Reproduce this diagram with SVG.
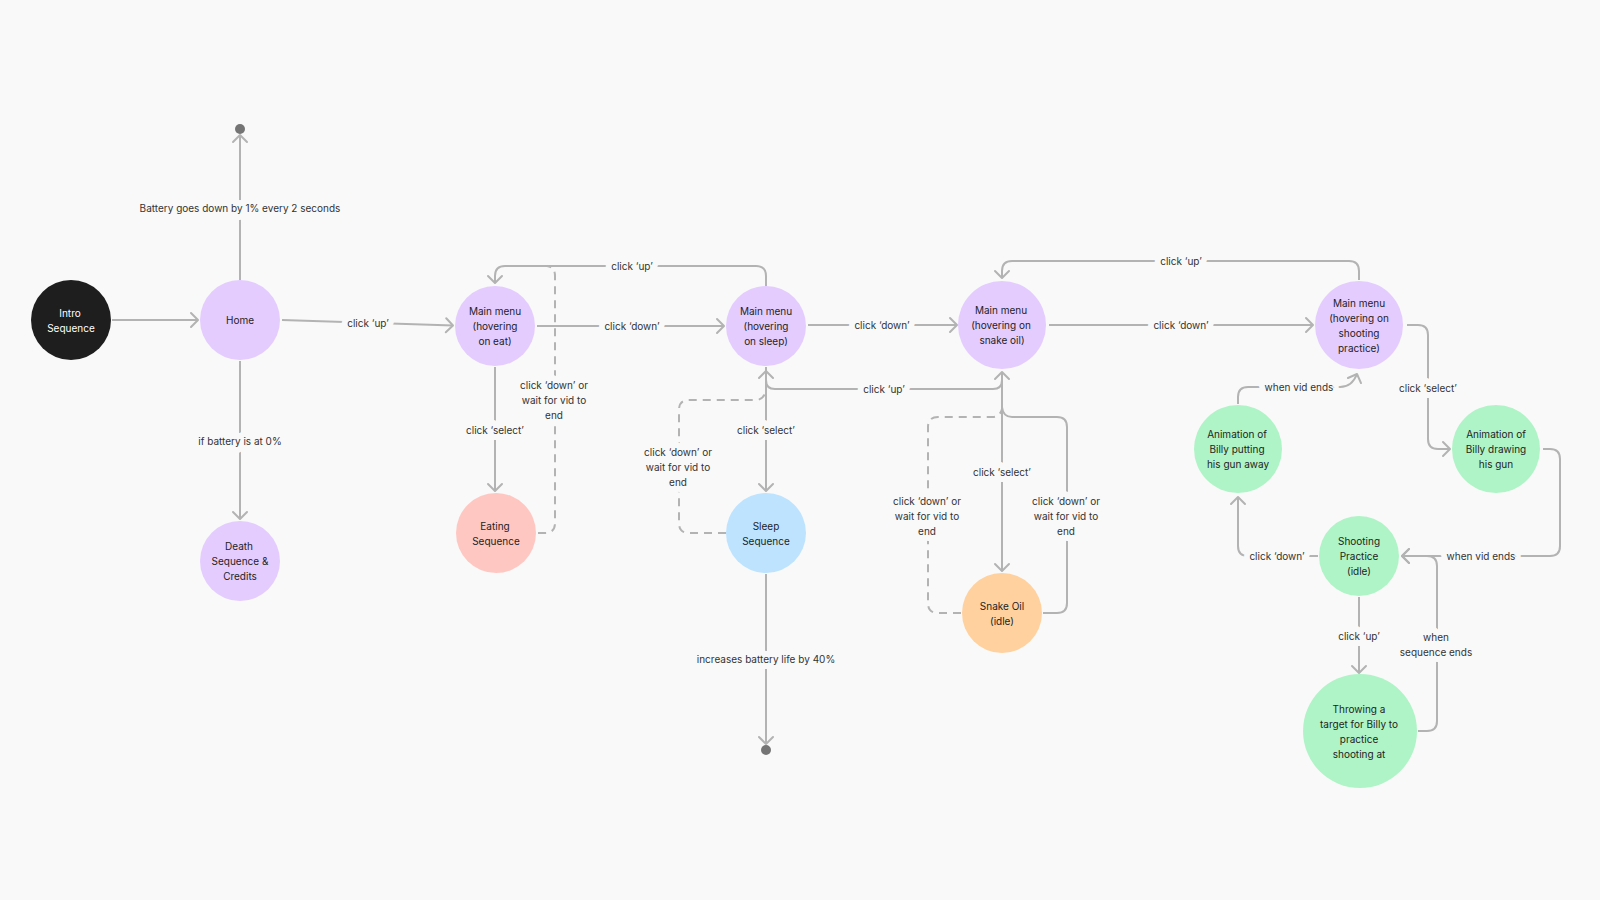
<svg xmlns="http://www.w3.org/2000/svg" width="1600" height="900" viewBox="0 0 1600 900">
<defs>
<style>
.bg{fill:#F9F9F9}
.n text{font-family:Inter,"Noto Sans",sans-serif;font-size:10px;fill:#1E1E1E;text-anchor:middle;dominant-baseline:central}
.purple{fill:#E4CCFF}
.green{fill:#AFF4C6}
.c path{fill:none;stroke:#B3B3B3;stroke-width:2;stroke-linejoin:round}
.c path.d{stroke-dasharray:8 6}
.lbl text{font-family:Inter,"Noto Sans",sans-serif;font-size:10px;fill:#333;text-anchor:middle;dominant-baseline:central;paint-order:stroke;stroke:#F9F9F9;stroke-width:12;stroke-linejoin:round}
.dot{fill:#757575}
</style>
<marker id="a" viewBox="-10 -10 20 20" markerWidth="20" markerHeight="20" markerUnits="userSpaceOnUse" refX="0" refY="0" orient="auto">
<path d="M-7,-7 L0,0 L-7,7" fill="none" stroke="#B3B3B3" stroke-width="2" stroke-linecap="round" stroke-linejoin="round"/>
</marker>
</defs>
<rect class="bg" x="0" y="0" width="1600" height="900"/>

<g id="connectors" class="c">
<path d="M112,320 L198,320" marker-end="url(#a)"/>
<path d="M240,280 L240,135" marker-end="url(#a)"/>
<path d="M240,361 L240,519" marker-end="url(#a)"/>
<path d="M282,320 L453,325.5" marker-end="url(#a)"/>
<path d="M537,326 L724,326" marker-end="url(#a)"/>
<path d="M766,286 L766,276 Q766,266 756,266 L505,266 Q495,266 495,276 L495,283" marker-end="url(#a)"/>
<path d="M495,367 L495,491" marker-end="url(#a)"/>
<path class="d" d="M538,533 L545,533 Q555,533 555,523 L555,276 Q555,267 547,266"/>
<path d="M766,367 L766,491" marker-end="url(#a)"/>
<path class="d" d="M726,533 L689,533 Q679,533 679,523 L679,410 Q679,400 689,400 L756,400 Q764,400 766,390"/>
<path d="M766,574 L766,744" marker-end="url(#a)"/>
<path d="M808,325 L957,325" marker-end="url(#a)"/>
<path d="M1002,372 L1002,380 Q1002,389 993,389 L775,389 Q766,389 766,380 L766,371" marker-end="url(#a)"/>
<path d="M1002,372 L1002,571" marker-end="url(#a)"/>
<path class="d" d="M961,613 L938,613 Q928,613 928,603 L928,427 Q928,417 938,417 L992,417 Q1000,417 1002,409"/>
<path d="M1043,613 L1057,613 Q1067,613 1067,603 L1067,427 Q1067,417 1057,417 L1012,417 Q1003,417 1002,407 L1002,372" marker-end="url(#a)"/>
<path d="M1049,325 L1313,325" marker-end="url(#a)"/>
<path d="M1359,280 L1359,271 Q1359,261 1349,261 L1012,261 Q1002,261 1002,271 L1002,278" marker-end="url(#a)"/>
<path d="M1407,325 L1418,325 Q1428,325 1428,335 L1428,439 Q1428,449 1438,449 L1450,449" marker-end="url(#a)"/>
<path d="M1543,449 L1550,449 Q1560,449 1560,459 L1560,546 Q1560,556 1550,556 L1402,556" marker-end="url(#a)"/>
<path d="M1318,556 L1248,556 Q1238,556 1238,546 L1238,497" marker-end="url(#a)"/>
<path d="M1238,404 L1238,397 Q1238,387 1248,387 L1340,387 Q1352,387 1357,374" marker-end="url(#a)"/>
<path d="M1359,597 L1359,673" marker-end="url(#a)"/>
<path d="M1418,731 L1427,731 Q1437,731 1437,721 L1437,566 Q1437,556 1427,556 L1402,556" marker-end="url(#a)"/>
</g>

<g id="labels" class="lbl">
<text x="240" y="208">Battery goes down by 1% every 2 seconds</text>
<text x="240" y="441">if battery is at 0%</text>
<text x="368" y="323">click ‘up’</text>
<text x="632" y="326">click ‘down’</text>
<text x="632" y="266">click ‘up’</text>
<text x="495" y="430">click ‘select’</text>
<text x="554" y="385">click ‘down’ or</text>
<text x="554" y="400">wait for vid to</text>
<text x="554" y="415">end</text>
<text x="766" y="430">click ‘select’</text>
<text x="678" y="452">click ‘down’ or</text>
<text x="678" y="467">wait for vid to</text>
<text x="678" y="482">end</text>
<text x="766" y="659">increases battery life by 40%</text>
<text x="882" y="325">click ‘down’</text>
<text x="884" y="389">click ‘up’</text>
<text x="1002" y="472">click ‘select’</text>
<text x="927" y="501">click ‘down’ or</text>
<text x="927" y="516">wait for vid to</text>
<text x="927" y="531">end</text>
<text x="1066" y="501">click ‘down’ or</text>
<text x="1066" y="516">wait for vid to</text>
<text x="1066" y="531">end</text>
<text x="1181" y="325">click ‘down’</text>
<text x="1181" y="261">click ‘up’</text>
<text x="1428" y="388">click ‘select’</text>
<text x="1299" y="387">when vid ends</text>
<text x="1481" y="556">when vid ends</text>
<text x="1277" y="556">click ‘down’</text>
<text x="1359" y="636">click ‘up’</text>
<text x="1436" y="637">when</text>
<text x="1436" y="652">sequence ends</text>
</g>

<circle class="dot" cx="240" cy="129" r="5"/>
<circle class="dot" cx="766" cy="750" r="5"/>

<g id="intro" class="n"><circle cx="71" cy="320" r="40" fill="#1E1E1E"/><text x="70" y="313" style="fill:#FFFFFF">Intro</text><text x="71" y="328" style="fill:#FFFFFF">Sequence</text></g>
<g id="home" class="n"><circle class="purple" cx="240" cy="320" r="40"/><text x="240" y="320">Home</text></g>
<g id="death" class="n"><circle class="purple" cx="240" cy="561" r="40"/><text x="239" y="546">Death</text><text x="240" y="561">Sequence &amp;</text><text x="240" y="576">Credits</text></g>
<g id="menu-eat" class="n"><circle class="purple" cx="495" cy="326" r="40"/><text x="495" y="311">Main menu</text><text x="495" y="326">(hovering</text><text x="495" y="341">on eat)</text></g>
<g id="eating" class="n"><circle cx="496" cy="533" r="40" fill="#FFC7C2"/><text x="495" y="526">Eating</text><text x="496" y="541">Sequence</text></g>
<g id="menu-sleep" class="n"><circle class="purple" cx="766" cy="326" r="40"/><text x="766" y="311">Main menu</text><text x="766" y="326">(hovering</text><text x="766" y="341">on sleep)</text></g>
<g id="sleep" class="n"><circle cx="766" cy="533" r="40" fill="#BDE3FF"/><text x="766" y="526">Sleep</text><text x="766" y="541">Sequence</text></g>
<g id="menu-snake" class="n"><circle class="purple" cx="1002" cy="325" r="44"/><text x="1001" y="310">Main menu</text><text x="1001" y="325">(hovering on</text><text x="1002" y="340">snake oil)</text></g>
<g id="snake" class="n"><circle cx="1002" cy="613" r="40" fill="#FFD19E"/><text x="1002" y="606">Snake Oil</text><text x="1002" y="621">(idle)</text></g>
<g id="menu-shoot" class="n"><circle class="purple" cx="1359" cy="325" r="44"/><text x="1359" y="303">Main menu</text><text x="1359" y="318">(hovering on</text><text x="1359" y="333">shooting</text><text x="1359" y="348">practice)</text></g>
<g id="draw-gun" class="n"><circle class="green" cx="1496" cy="449" r="44"/><text x="1496" y="434">Animation of</text><text x="1496" y="449">Billy drawing</text><text x="1496" y="464">his gun</text></g>
<g id="put-away" class="n"><circle class="green" cx="1238" cy="449" r="44"/><text x="1237" y="434">Animation of</text><text x="1237" y="449">Billy putting</text><text x="1238" y="464">his gun away</text></g>
<g id="shoot-idle" class="n"><circle class="green" cx="1359" cy="556" r="40"/><text x="1359" y="541">Shooting</text><text x="1359" y="556">Practice</text><text x="1359" y="571">(idle)</text></g>
<g id="throwing" class="n"><circle class="green" cx="1360" cy="731" r="57"/><text x="1359" y="709">Throwing a</text><text x="1359" y="724">target for Billy to</text><text x="1359" y="739">practice</text><text x="1359" y="754">shooting at</text></g>
</svg>
